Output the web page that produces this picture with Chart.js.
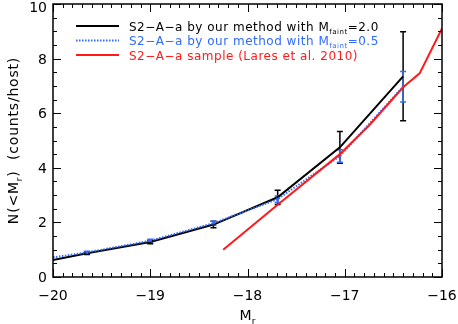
<!DOCTYPE html>
<html>
<head>
<meta charset="utf-8">
<script src="https://cdn.jsdelivr.net/npm/chart.js@4.4.0/dist/chart.umd.min.js"></script>
<style>
  html, body { margin: 0; padding: 0; background: #fff; }
  #wrap { width: 458px; height: 324px; }
</style>
</head>
<body>
<div id="wrap"><canvas id="lfChart"></canvas></div>
<script>
// Magnitude bins (M_r)
const magBins = [-20.0, -19.65, -19.0, -18.35, -17.69, -17.05, -16.4];

// S2-A-a by our method, M_faint = 2.0
const blackN   = [0.62, 0.87, 1.28, 1.92, 2.92, 4.75, 7.35];
const blackErr = [0, 0.05, 0.06, 0.12, 0.26, 0.58, 1.63];

// S2-A-a by our method, M_faint = 0.5
const blueN   = [0.72, 0.9, 1.33, 1.97, 2.85, 4.43, 6.97];
const blueErr = [0, 0.04, 0.05, 0.07, 0.12, 0.23, 0.56];

// S2-A-a sample (Lares et al. 2010)
const redMag = [-18.25, -17.69, -17.05, -16.75, -16.4, -16.23, -16.0];
const redN   = [1.0, 2.65, 4.5, 5.55, 6.95, 7.46, 9.1];

// Tick labels
const xTicks = [-20, -19, -18, -17, -16];
const yTicks = [0, 2, 4, 6, 8, 10];

const BLUE = '#2f6bff';
const RED = '#ff1a1a';
const FONT = '"DejaVu Sans", Verdana, sans-serif';

function toPoints(xs, ys) {
    return xs.map((x, i) => ({ x: x, y: ys[i] }));
}

// Text with subscripts
function drawRich(ctx, parts, x, y, size, color) {
    ctx.fillStyle = color;
    ctx.textBaseline = 'alphabetic';
    ctx.textAlign = 'left';
    let cx = x;
    parts.forEach(p => {
        if (p.sub) {
            ctx.font = `${Math.round(size * 0.62)}px ${FONT}`;
            ctx.fillText(p.t, cx, y + size * 0.25);
        } else {
            ctx.font = `${size}px ${FONT}`;
            ctx.fillText(p.t, cx, y);
        }
        cx += ctx.measureText(p.t).width;
    });
    return cx - x;
}

function richWidth(ctx, parts, size) {
    let w = 0;
    parts.forEach(p => {
        ctx.font = `${p.sub ? Math.round(size * 0.62) : size}px ${FONT}`;
        w += ctx.measureText(p.t).width;
    });
    return w;
}

const decorPlugin = {
    id: 'decor',
    beforeDatasetsDraw(chart) {
        const ctx = chart.ctx;
        const xs = chart.scales.x, ys = chart.scales.y;
        ctx.save();

        // error bars
        const drawErr = (vals, errs, color) => {
            ctx.strokeStyle = color;
            ctx.lineWidth = 1.5;
            magBins.forEach((m, i) => {
                if (!errs[i]) return;
                const px = xs.getPixelForValue(m);
                const top = ys.getPixelForValue(vals[i] + errs[i]);
                const bot = ys.getPixelForValue(vals[i] - errs[i]);
                ctx.beginPath();
                ctx.moveTo(px, top); ctx.lineTo(px, bot);
                ctx.moveTo(px - 3, top); ctx.lineTo(px + 3, top);
                ctx.moveTo(px - 3, bot); ctx.lineTo(px + 3, bot);
                ctx.stroke();
            });
        };
        drawErr(blackN, blackErr, '#000');
        drawErr(blueN, blueErr, BLUE);
        ctx.restore();
    },
    afterDraw(chart) {
        const ctx = chart.ctx;
        const xs = chart.scales.x, ys = chart.scales.y;
        const a = chart.chartArea;
        ctx.save();

        // frame
        ctx.strokeStyle = '#000';
        ctx.lineWidth = 1.5;
        ctx.strokeRect(a.left, a.top, a.right - a.left, a.bottom - a.top);

        // inward ticks on all sides
        ctx.lineWidth = 1;
        ctx.beginPath();
        for (let k = 0; k <= 40; k++) {
            const v = -20 + k * 0.1;
            const px = Math.round(xs.getPixelForValue(v)) + 0.5;
            const len = (k % 10 === 0) ? 8 : 4;
            ctx.moveTo(px, a.bottom); ctx.lineTo(px, a.bottom - len);
            ctx.moveTo(px, a.top); ctx.lineTo(px, a.top + len);
        }
        for (let k = 0; k <= 20; k++) {
            const v = k * 0.5;
            const py = Math.round(ys.getPixelForValue(v)) + 0.5;
            const len = (k % 4 === 0) ? 8 : 4;
            ctx.moveTo(a.left, py); ctx.lineTo(a.left + len, py);
            ctx.moveTo(a.right, py); ctx.lineTo(a.right - len, py);
        }
        ctx.stroke();

        // tick labels
        ctx.fillStyle = '#000';
        ctx.font = `14px ${FONT}`;
        ctx.textBaseline = 'alphabetic';
        ctx.textAlign = 'center';
        xTicks.forEach(v => {
            ctx.fillText(String(v).replace('-', '\u2212'), xs.getPixelForValue(v), 300);
        });
        ctx.textAlign = 'right';
        yTicks.forEach(v => {
            const py = ys.getPixelForValue(v);
            ctx.fillText(String(v), a.left - 6, Math.max(py + 5, 12));
        });

        // legend
        const rows = [
            { color: '#000', dash: [], parts: [{ t: 'S2\u2212A\u2212a by our method with M' }, { t: 'faint', sub: true }, { t: '=2.0' }] },
            { color: BLUE, dash: [1.5, 1.5], parts: [{ t: 'S2\u2212A\u2212a by our method with M' }, { t: 'faint', sub: true }, { t: '=0.5' }] },
            { color: RED, dash: [], parts: [{ t: 'S2\u2212A\u2212a sample (Lares et al. 2010)' }] }
        ];
        ctx.letterSpacing = '0.5px';
        rows.forEach((r, i) => {
            const y = 26 + i * 14.5;
            ctx.strokeStyle = r.color;
            ctx.lineWidth = 2;
            ctx.setLineDash(r.dash);
            ctx.beginPath();
            ctx.moveTo(76, y); ctx.lineTo(119, y);
            ctx.stroke();
            ctx.setLineDash([]);
            drawRich(ctx, r.parts, 129, y + 4.5, 12, r.color);
        });

        // x axis title
        ctx.letterSpacing = '0px';
        const xt = [{ t: 'M' }, { t: 'r', sub: true }];
        const xw = richWidth(ctx, xt, 14);
        drawRich(ctx, xt, (a.left + a.right) / 2 - xw / 2, 320, 14, '#000');

        // y axis title (rotated)
        ctx.letterSpacing = '0.8px';
        const yt = [{ t: 'N(<M' }, { t: 'r', sub: true }, { t: ')  (counts/host)' }];
        const yw = richWidth(ctx, yt, 14);
        ctx.translate(18, (a.top + a.bottom) / 2);
        ctx.rotate(-Math.PI / 2);
        drawRich(ctx, yt, -yw / 2, 0, 14, '#000');
        ctx.restore();
    }
};

const ctx = document.getElementById('lfChart').getContext('2d');
const lfChart = new Chart(ctx, {
    type: 'scatter',
    data: {
        datasets: [{
            label: 'M_faint=2.0',
            data: toPoints(magBins, blackN),
            showLine: true,
            borderColor: '#000',
            borderWidth: 2,
            pointRadius: 0,
            order: 2
        }, {
            label: 'M_faint=0.5',
            data: toPoints(magBins, blueN),
            showLine: true,
            borderColor: BLUE,
            borderWidth: 2,
            borderDash: [1.5, 1.5],
            pointStyle: 'rect',
            pointRadius: 1.8,
            pointBackgroundColor: BLUE,
            pointBorderColor: BLUE,
            pointBorderWidth: 0,
            order: 1
        }, {
            label: 'Lares et al. 2010',
            data: toPoints(redMag, redN),
            showLine: true,
            borderColor: RED,
            borderWidth: 2,
            pointRadius: 0,
            order: 0
        }]
    },
    options: {
        responsive: true,
        maintainAspectRatio: false,
        animation: false,
        events: [],
        layout: { padding: { top: 1, right: 16, left: 0, bottom: 0 } },
        plugins: {
            legend: { display: false },
            tooltip: { enabled: false }
        },
        scales: {
            x: {
                type: 'linear',
                min: -20,
                max: -16,
                afterBuildTicks: s => { s.ticks = xTicks.map(v => ({ value: v })); },
                afterFit: s => { s.height = 47; },
                grid: { display: false },
                border: { display: false },
                ticks: { display: false }
            },
            y: {
                type: 'linear',
                min: 0,
                max: 10,
                afterBuildTicks: s => { s.ticks = yTicks.map(v => ({ value: v })); },
                afterFit: s => { s.width = 53; },
                grid: { display: false },
                border: { display: false },
                ticks: { display: false }
            }
        }
    },
    plugins: [decorPlugin]
});
</script>
</body>
</html>
